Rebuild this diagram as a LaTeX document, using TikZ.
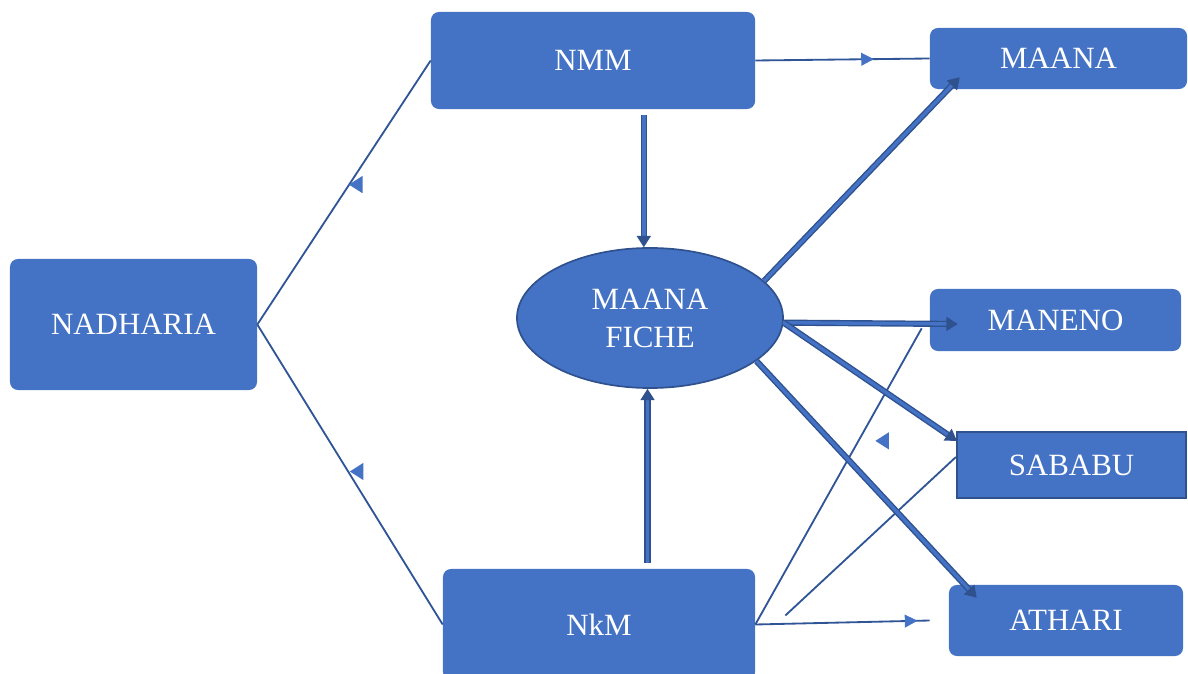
\documentclass[tikz,border=0pt]{standalone}
\usepackage{fontspec}
\setmainfont{Liberation Serif}
\usepackage{tikz}
\usetikzlibrary{arrows.meta,decorations.markings,shapes.geometric,calc,positioning}
\definecolor{boxblue}{HTML}{4472C4}
\definecolor{lineblue}{HTML}{2F5597}
\definecolor{edgeblue}{HTML}{2F528F}
\newcommand{\tipfwd}{\arrow[color=boxblue]{Triangle[length=9pt,width=9pt]}}

\begin{document}
\begin{tikzpicture}[x=0.025cm,y=-0.025cm,
	box/.style={fill=boxblue, rounded corners=0.2cm, text=white, inner sep=0pt, font=\fontsize{22}{27}\selectfont},
	wire/.style={draw=lineblue, line width=1.3pt},
	dbl/.style={draw=edgeblue, double=boxblue, double distance=2.4pt, line width=1pt, -{Triangle[length=8pt,width=10pt]}},
	lefttip/.style={isosceles triangle, isosceles triangle apex angle=65, shape border rotate=180, fill=boxblue, inner sep=0pt, minimum size=0.34cm, anchor=apex},
	midfwd/.style={postaction={decorate,decoration={markings,mark=at position #1 with {\tipfwd}}}},
	midleft/.style 2 args={postaction={decorate,decoration={markings,mark=at position #1 with {\node[lefttip, xshift=#2] {};}}}}]
\useasboundingbox (0,0) rectangle (1188,674);

% boxes
\node[box, minimum width=6.175cm, minimum height=3.275cm] (nad) at (133.5,324.5) {NADHARIA};
\node[box, minimum width=8.1cm, minimum height=2.425cm] (nmm) at (593,60.5) {NMM};
\node[box, minimum width=7.8cm, minimum height=2.775cm] (nkm) at (599,624.5) {NkM};
\node[box, minimum width=6.425cm, minimum height=1.525cm] (maana) at (1058.5,58.5) {MAANA};
\node[box, minimum width=6.275cm, minimum height=1.55cm] (maneno) at (1055.5,320) {MANENO};
\node[box, rounded corners=0pt, draw=edgeblue, line width=1.5pt, minimum width=5.725cm, minimum height=1.65cm] (sababu) at (1071.5,465) {SABABU};
\node[box, minimum width=5.85cm, minimum height=1.775cm] (athari) at (1066,620.5) {ATHARI};
\node[box, ellipse, draw=edgeblue, line width=1.2pt, align=center, minimum width=6.65cm, minimum height=3.5cm] (ell) at (650,318) {MAANA\\FICHE};

% thin lines
\draw[wire, midleft={0.53}{-0.05cm}] (nad.east) -- (nmm.west);
\draw[wire, midleft={0.49}{0cm}] (nad.east) -- (nkm.west);
\draw[wire, midfwd=0.68] (nmm.east) -- (maana.west);
\draw[wire, midfwd=0.93] (nkm.east) -- ($(athari.west)+(-19,0)$);
\draw[wire, midleft={0.62}{0.38cm}] (nkm.east) -- ($(maneno.south west)+(-8,-23)$);
\coordinate (sabtail) at ($(nkm.east)+(30,-9)$);
\draw[wire] (sabtail) -- ($(sababu.west)+(0,-8)$);

% double arrows
\draw[dbl] (ell.95 |- nmm.south) ++(0,6) -- (ell.95);
\draw[dbl] (ell.268 |- nkm.north) ++(0,-6) -- (ell.268);
\draw[dbl] (ell.18) -- ($(maana.south west)+(30,-12)$);
\draw[dbl] (ell.-2) -- ($(maneno.west)+(28,4)$);
\draw[dbl] (ell.-2) -- ($(sababu.north west)+(1,10)$);
\draw[dbl] (ell.-22) -- ($(athari.north west)+(28,13)$);
\end{tikzpicture}
\end{document}
